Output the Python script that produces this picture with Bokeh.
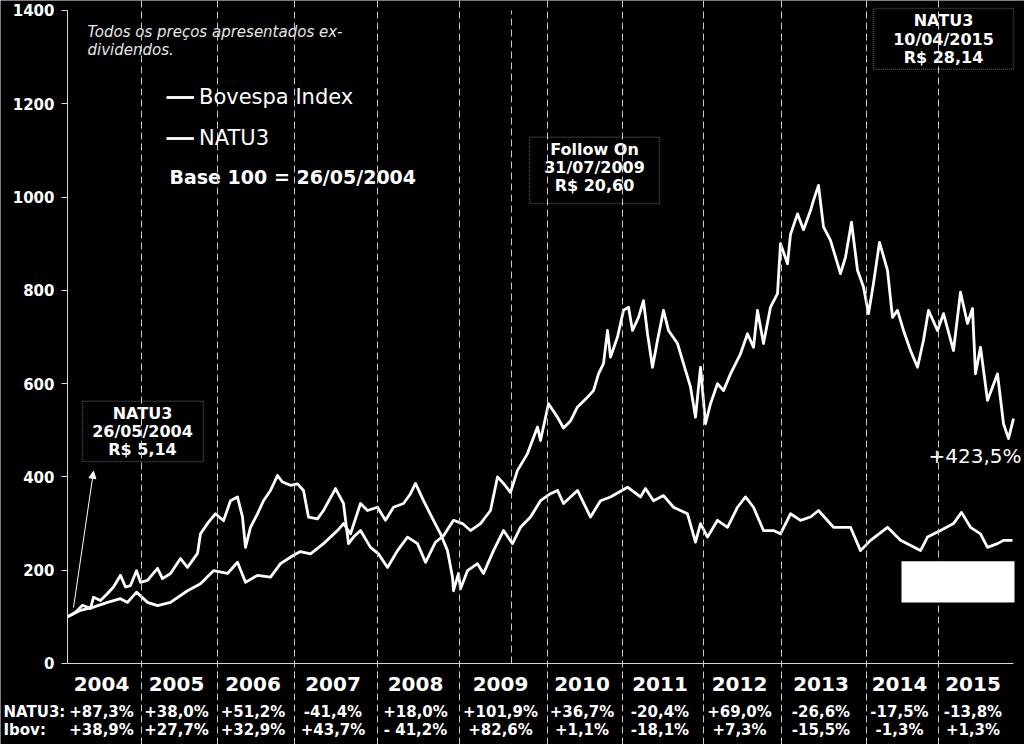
from bokeh.plotting import figure
from bokeh.models import (FixedTicker, Span, BoxAnnotation, Arrow, NormalHead,
                          Legend, LegendItem, Range1d)
from bokeh.core.properties import value
from bokeh.embed import file_html
from bokeh.resources import INLINE

# ---------------- data (t = session position on the chart, base 100 = 26/05/2004)
natu_t = [0, 8, 15, 23, 26, 33, 40, 46, 53, 58, 63, 69, 73, 80, 90, 95, 103, 113, 120, 130,
          133, 141, 148, 156, 163, 170, 175, 178, 183, 190, 196, 203, 210, 215, 223, 230, 236, 241, 250, 256,
          268, 276, 281, 286, 293, 303, 311, 320, 330, 340, 350, 358, 368, 376, 386, 395, 403, 413, 423, 430,
          436, 443, 450, 460, 470, 473, 481, 490, 496, 503, 510, 520, 526, 531, 536, 540, 543, 550, 556, 561,
          565, 571, 576, 580, 585, 590, 596, 601, 610, 616, 623, 628, 633, 638, 643, 650, 656, 663, 673, 680,
          686, 690, 696, 703, 710, 713, 720, 723, 730, 736, 743, 746, 751, 756, 763, 773, 778, 784, 790, 796,
          801, 806, 812, 820, 825, 830, 836, 843, 850, 856, 861, 870, 876, 886, 893, 900, 905, 908, 913, 920,
          930, 936, 941, 946]
natu_v = [100, 110, 125, 118, 142, 135, 150, 164, 189, 164, 167, 199, 174, 178, 204, 182, 193, 225, 206, 236,
          278, 303, 321, 306, 349, 357, 314, 249, 292, 321, 349, 371, 403, 389, 382, 385, 371, 314, 310, 328,
          375, 343, 257, 271, 285, 249, 235, 206, 242, 271, 257, 217, 260, 274, 307, 300, 285, 300, 328, 400,
          386, 367, 414, 450, 507, 478, 557, 528, 505, 520, 550, 571, 585, 621, 643, 714, 657, 700, 757, 764,
          714, 742, 778, 707, 635, 693, 757, 714, 686, 643, 593, 528, 635, 514, 557, 600, 585, 621, 664, 707,
          678, 757, 686, 764, 793, 900, 857, 920, 964, 930, 971, 993, 1025, 936, 907, 836, 871, 946, 843, 807,
          750, 815, 903, 843, 742, 757, 714, 671, 635, 693, 757, 714, 750, 671, 796, 729, 761, 621, 678, 564,
          621, 514, 482, 525]

ibov_t = [0, 13, 26, 40, 53, 60, 69, 80, 90, 103, 120, 133, 146, 160, 170, 178, 190, 203, 213, 226,
          233, 243, 256, 270, 276, 283, 293, 300, 310, 318, 326, 336, 343, 348, 356, 366, 373, 380, 385, 386,
          391, 393, 400, 410, 416, 426, 436, 445, 453, 463, 473, 483, 490, 496, 510, 523, 533, 543, 560, 573,
          578, 586, 596, 606, 620, 628, 633, 640, 650, 660, 670, 678, 686, 696, 706, 713, 723, 733, 743, 751,
          766, 783, 793, 803, 820, 833, 853, 860, 873, 886, 894, 903, 913, 920, 930, 936, 945]
ibov_v = [100, 114, 121, 131, 139, 131, 153, 131, 124, 131, 156, 171, 199, 193, 217, 174, 189, 185, 214, 232,
          240, 235, 257, 285, 300, 278, 343, 328, 335, 307, 335, 343, 364, 386, 349, 307, 278, 242, 185, 156,
          193, 160, 199, 214, 193, 242, 285, 257, 292, 314, 349, 364, 371, 343, 371, 314, 349, 357, 378, 357,
          375, 349, 360, 335, 321, 260, 300, 271, 307, 292, 335, 357, 335, 285, 285, 278, 321, 307, 314, 328,
          292, 292, 242, 264, 292, 264, 242, 271, 285, 300, 324, 292, 278, 249, 257, 264, 264]

years = ["2004", "2005", "2006", "2007", "2008", "2009", "2010", "2011", "2012", "2013", "2014", "2015"]
year_bounds = [0, 74, 150, 227, 310, 392, 480, 555, 636, 714, 799, 871, 946]
natu_pct = ["+87,3%", "+38,0%", "+51,2%", "-41,4%", "+18,0%", "+101,9%",
            "+36,7%", "-20,4%", "+69,0%", "-26,6%", "-17,5%", "-13,8%"]
ibov_pct = ["+38,9%", "+27,7%", "+32,9%", "+43,7%", "- 41,2%", "+82,6%",
            "+1,1%", "-18,1%", "+7,3%", "-15,5%", "-1,3%", "+1,3%"]
y_ticks = [0, 200, 400, 600, 800, 1000, 1200, 1400]
follow_on_t = 444
final_return = "+423,5%"

# ---------------- styling constants
FONT = "DejaVu Sans"
WHITE = "#ffffff"
GREY = "#c8c8c8"
AXIS = "#d9d9d9"
DASH = "7 4"

p = figure(width=1024, height=744, output_backend="svg", toolbar_location=None,
           x_axis_location=None, title=None,
           x_range=Range1d(-67, 957), y_range=Range1d(-173.66, 1421.4))
p.min_border_left = 0
p.min_border_right = 0
p.min_border_top = 0
p.min_border_bottom = 0
p.background_fill_color = "black"
p.border_fill_color = "black"
p.outline_line_color = None
p.grid.visible = False

ya = p.yaxis[0]
ya.fixed_location = year_bounds[0]
ya.ticker = FixedTicker(ticks=y_ticks)
ya.bounds = (0, 1400)
ya.axis_line_color = AXIS
ya.major_tick_line_color = AXIS
ya.minor_tick_line_color = None
ya.major_tick_in = 0
ya.major_tick_out = 6
ya.major_label_standoff = 7
ya.major_label_text_color = WHITE
ya.major_label_text_font = FONT
ya.major_label_text_font_style = "bold"
ya.major_label_text_font_size = "15px"

# year separators (full height, through the table) and follow-on marker
for b in year_bounds[1:-1]:
    p.add_layout(Span(location=b, dimension="height", line_color=GREY,
                      line_width=1, line_dash=DASH))
p.segment(x0=[follow_on_t], y0=[0], x1=[follow_on_t], y1=[1400],
          line_color=GREY, line_width=1, line_dash=DASH)
# horizontal axis line
p.segment(x0=[year_bounds[0]], y0=[0], x1=[year_bounds[-1]], y1=[0], line_color=AXIS, line_width=1)

# series
r_ibov = p.line(ibov_t, ibov_v, line_color=WHITE, line_width=2.8, line_join="round")
r_natu = p.line(natu_t, natu_v, line_color=WHITE, line_width=2.8, line_join="round")

legend = Legend(items=[LegendItem(label="Bovespa Index", renderers=[r_ibov]),
                       LegendItem(label="NATU3", renderers=[r_natu])],
                location=(166, 594), orientation="vertical")
legend.background_fill_alpha = 0
legend.border_line_alpha = 0
legend.label_text_color = WHITE
legend.label_text_font = FONT
legend.label_text_font_size = "21px"
legend.glyph_width = 28
legend.glyph_height = 20
legend.label_height = 25
legend.label_standoff = 5
legend.spacing = 16
legend.padding = 0
legend.margin = 0
p.add_layout(legend)

# notes
p.text(x=[20, 20], y=[1354, 1315], text=["Todos os preços apresentados ex-", "dividendos."],
       text_align="left", text_baseline="middle", text_color="#e6e6e6",
       text_font=value(FONT), text_font_style="italic", text_font_size="15px")
p.text(x=[102], y=[1042], text=["Base 100 = 26/05/2004"], text_align="left", text_baseline="middle",
       text_color=WHITE, text_font=value(FONT), text_font_style="bold", text_font_size="19px")

# annotation boxes
boxes = [
    (15, 136, 433, 562, 75, ["NATU3", "26/05/2004", "R$ 5,14"], [536, 498, 459]),
    (462, 592, 986, 1128, 527, ["Follow On", "31/07/2009", "R$ 20,60"], [1102, 1063, 1025]),
    (806, 946, 1274, 1404, 876, ["NATU3", "10/04/2015", "R$ 28,14"], [1379, 1338, 1299]),
]
for left, right, bottom, top, cx, lines, ys in boxes:
    p.add_layout(BoxAnnotation(left=left, right=right, bottom=bottom, top=top,
                               fill_color=None, fill_alpha=0, line_color=WHITE,
                               line_width=1.5, line_dash="1 1"))
    p.text(x=[cx] * 3, y=ys, text=lines, text_align="center", text_baseline="middle",
           text_color=WHITE, text_font=value(FONT), text_font_style="bold", text_font_size="16px")

p.add_layout(Arrow(end=NormalHead(size=7, fill_color=WHITE, line_color=WHITE, line_width=1),
                   x_start=6, y_start=120, x_end=26, y_end=412,
                   line_color=WHITE, line_width=1))

p.text(x=[861], y=[445], text=[final_return], text_align="left", text_baseline="middle",
       text_color=WHITE, text_font=value(FONT), text_font_size="20px")

p.add_layout(BoxAnnotation(left=834, right=947, bottom=131, top=219,
                           fill_color=WHITE, fill_alpha=1, line_color=None))

# yearly returns table below the axis
centers = [(a + b) / 2 - 3 for a, b in zip(year_bounds[:-1], year_bounds[1:])]
p.text(x=centers, y=[-44] * len(years), text=years, text_align="center", text_baseline="middle",
       text_color=WHITE, text_font=value(FONT), text_font_style="bold", text_font_size="20px")
p.text(x=centers, y=[-103] * len(years), text=natu_pct, text_align="center", text_baseline="middle",
       text_color=WHITE, text_font=value(FONT), text_font_style="bold", text_font_size="15px")
p.text(x=centers, y=[-143.5] * len(years), text=ibov_pct, text_align="center", text_baseline="middle",
       text_color=WHITE, text_font=value(FONT), text_font_style="bold", text_font_size="15px")
p.text(x=[-64, -64], y=[-103, -143.5], text=["NATU3:", "Ibov:"], text_align="left", text_baseline="middle",
       text_color=WHITE, text_font=value(FONT), text_font_style="bold", text_font_size="15px")

open("out.html", "w").write(file_html(p, INLINE))
